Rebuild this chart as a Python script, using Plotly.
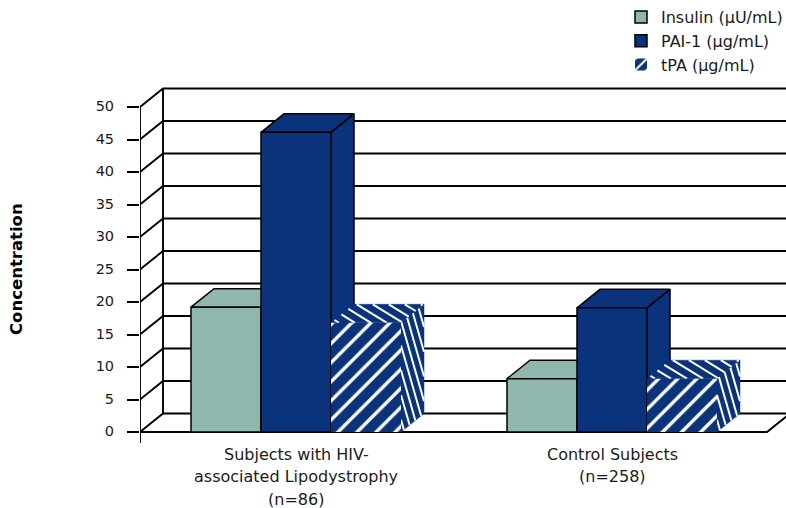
import plotly.graph_objects as go

# Chart data
groups = [0, 1]
group_lines = [
    ["Subjects with HIV-", "associated Lipodystrophy", "(n=86)"],
    ["Control Subjects", "(n=258)"],
]
insulin = [19.2, 8.2]
pai1 = [46.1, 19.1]
tpa = [16.8, 8.2]
y_ticks = [0, 5, 10, 15, 20, 25, 30, 35, 40, 45, 50]

TEAL = "#90B7AE"
NAVY = "#0A337C"
FONT = "DejaVu Sans"
INK = "#1a1a1a"

# Pseudo-3D projection, in axis units
X_UNIT_PX = 316.0
Y_UNIT_PX = 6.5
DX = 23 / X_UNIT_PX
DY = 18.5 / Y_UNIT_PX
BAR_W = 70 / X_UNIT_PX
X_MIN = -156 / X_UNIT_PX
X_MAX = 490 / X_UNIT_PX
X_FLOOR_END = 471 / X_UNIT_PX
Y_MIN = -11 / Y_UNIT_PX
Y_MAX = 432 / Y_UNIT_PX

fig = go.Figure()


def line_trace(xs, ys, width=1.9, color="black", z=0):
    fig.add_trace(go.Scatter(x=xs, y=ys, mode="lines", hoverinfo="skip", showlegend=False,
                             line=dict(color=color, width=width), zorder=z))


def face(xs, ys, fill, outline, z):
    fig.add_trace(go.Scatter(x=xs, y=ys, mode="lines", fill="toself", fillcolor=fill,
                             hoverinfo="skip", showlegend=False,
                             line=dict(color=outline, width=1.5 if outline != fill else 0.5), zorder=z))


# Chart walls and gridlines
xs, ys = [], []
for v in y_ticks:
    xs += [X_MIN, X_MIN + DX, X_MAX, None]
    ys += [v, v + DY, v + DY, None]
line_trace(xs, ys)
line_trace([X_MIN + DX, X_MIN + DX], [DY, 50 + DY])
line_trace([X_MIN, X_MIN], [Y_MIN, 50])
line_trace([X_MIN, X_FLOOR_END, X_FLOOR_END + DX], [0, 0, DY])


def hatch_side(x_r, h, z):
    # Steep stripes on the right-hand face of a hatched box
    slope = 15.2
    step = 3.8
    xs, ys = [], []
    c = step / 2
    while c < h + slope:
        u1 = max(0.0, (c - h) / slope)
        u2 = min(1.0, c / slope)
        for u in (u1, u2):
            xs.append(x_r + u * DX)
            ys.append((c - slope * u) + u * DY)
        xs.append(None)
        ys.append(None)
        c += step
    line_trace(xs, ys, width=2, color="white", z=z)


def hatch_top(x_l, h, z):
    # Shallow stripes on the top face of a hatched box
    run = 0.76 * BAR_W
    step = 16 / X_UNIT_PX
    xs, ys = [], []
    s = -run + step / 2
    while s < BAR_W:
        t1 = max(0.0, -s / run)
        t2 = min(1.0, (BAR_W - s) / run)
        for t in (t1, t2):
            # t runs from the back edge toward the front edge
            xs.append(x_l + DX * (1 - t) + s + run * t)
            ys.append(h + DY * (1 - t))
        xs.append(None)
        ys.append(None)
        s += step
    line_trace(xs, ys, width=2, color="white", z=z)


series = [
    ("Insulin (\u03bcU/mL)", insulin, TEAL, -105 / X_UNIT_PX, False),
    ("PAI-1 (\u03bcg/mL)", pai1, NAVY, -35 / X_UNIT_PX, False),
    ("tPA (\u03bcg/mL)", tpa, NAVY, 35 / X_UNIT_PX, True),
]

for k, (name, values, color, offset, hatched) in enumerate(series):
    base_z = 10 * (k + 1)
    outline = NAVY if hatched else "black"
    for g, v in zip(groups, values):
        xl = g + offset
        xr = xl + BAR_W
        # Top and right-hand faces of the box
        face([xl, xr, xr + DX, xl + DX, xl], [v, v, v + DY, v + DY, v], color, outline, base_z)
        face([xr, xr + DX, xr + DX, xr, xr], [0, DY, v + DY, v, 0], color, outline, base_z)
        if hatched:
            hatch_side(xr, v, base_z + 1)
            hatch_top(xl, v, base_z + 1)
    marker = dict(color=color, line=dict(color="black", width=1.5))
    if hatched:
        marker = dict(color=NAVY, line=dict(width=0),
                      pattern=dict(shape="/", bgcolor=NAVY, fgcolor="white", size=13.5,
                                   solidity=0.25, fgopacity=1))
    fig.add_trace(go.Bar(name=name, x=groups, y=values, width=BAR_W, offset=offset,
                         marker=marker, hoverinfo="skip", zorder=base_z + 2))

# Multi-line category labels
for g, lines in zip(groups, group_lines):
    for i, text in enumerate(lines):
        fig.add_annotation(x=g, y=Y_MIN, xref="x", yref="y", text=text, showarrow=False,
                           yanchor="middle", yshift=-(11.5 + 22.3 * i), borderpad=0,
                           font=dict(family=FONT, size=16, color=INK))

fig.add_annotation(text="<b>Concentration</b>", x=(16 - 140) / 646, y=(443 - 269) / 443,
                   xref="paper", yref="paper", showarrow=False, textangle=-90,
                   xanchor="center", yanchor="middle",
                   font=dict(family=FONT, size=16.5, color="black"))

fig.update_layout(
    width=786, height=508,
    margin=dict(l=140, r=0, t=0, b=65, autoexpand=False),
    paper_bgcolor="white", plot_bgcolor="white",
    barmode="overlay",
    font=dict(family=FONT, size=16, color=INK),
    legend=dict(x=(621 - 140) / 646, y=1.0, xanchor="left", yanchor="top",
                bgcolor="rgba(0,0,0,0)", traceorder="normal",
                font=dict(family=FONT, size=16)),
    xaxis=dict(range=[X_MIN, X_MAX], showgrid=False, zeroline=False, showline=False,
               showticklabels=False, ticks=""),
    yaxis=dict(range=[Y_MIN, Y_MAX], showgrid=False, zeroline=False, showline=False,
               tickmode="array", tickvals=y_ticks, ticktext=[str(v) for v in y_ticks],
               ticks="outside", ticklen=12, tickwidth=1.9, tickcolor="black",
               ticklabelstandoff=10, ticklabelshift=-1,
               tickfont=dict(family=FONT, size=14.5, color=INK)),
)

fig.write_html("out.html")
